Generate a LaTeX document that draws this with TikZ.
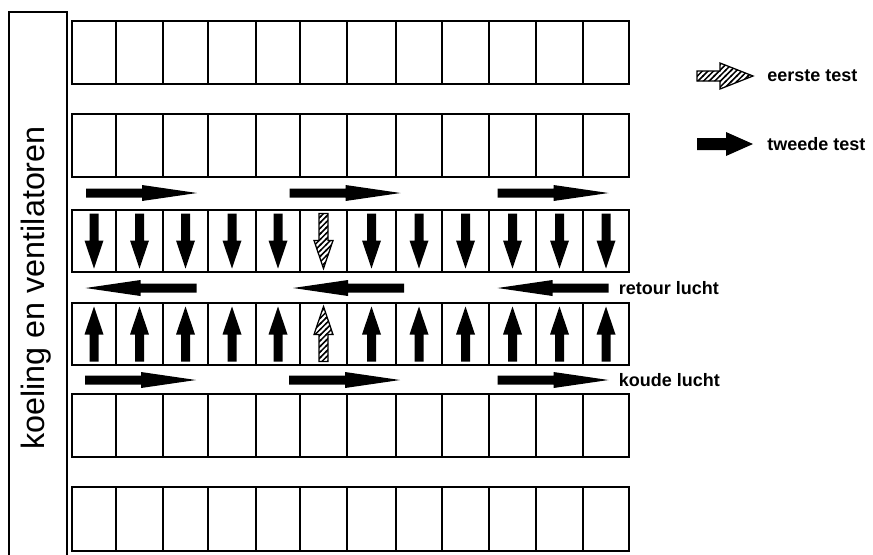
\documentclass[tikz,border=0pt]{standalone}
\usepackage{fontspec}
\setsansfont{Liberation Sans}
\usetikzlibrary{positioning,fit,patterns}
\pgfdeclarepatternformonly{arcering}{\pgfqpoint{-1pt}{-1pt}}{\pgfqpoint{5pt}{5pt}}{\pgfqpoint{4pt}{4pt}}{
  \pgfsetlinewidth{1.1pt}
  \pgfpathmoveto{\pgfqpoint{-0.5pt}{-0.5pt}}
  \pgfpathlineto{\pgfqpoint{4.5pt}{4.5pt}}
  \pgfusepath{stroke}}
\tikzset{
cel/.style={rectangle,draw,line width=1.2pt,inner sep=0pt},
kader/.style={rectangle,draw,line width=1.1pt,inner sep=0pt},
% pijl: lengte, halve schacht, halve kop, koplengte
pics/pijlvorm/.style n args={4}{code={
  \path[pic actions] ({-#1/2},-#2) -- ({#1/2-#4},-#2) -- ({#1/2-#4},-#3) -- ({#1/2},0)
    -- ({#1/2-#4},#3) -- ({#1/2-#4},#2) -- ({-#1/2},#2) -- cycle;
  \coordinate (-tip) at ({#1/2},0);
  \coordinate (-staart) at ({-#1/2},0);
}},
pics/stroompijl/.style={/tikz/pics/pijlvorm={111}{4.5}{8}{55}},
pics/blaaspijl/.style={/tikz/pics/pijlvorm={55}{4.5}{9.5}{28}},
zwart/.style={fill=black},
gearceerd/.style={draw=black,line width=0.9pt,pattern=arcering},
el/.style={font=\sffamily\bfseries\fontsize{12.8}{15}\selectfont,inner sep=0pt},
}

\begin{document}
\begin{tikzpicture}[x=0.025cm,y=-0.025cm]
	\useasboundingbox (0,0) rectangle (873,554);

	% koelwand
	\node[kader,fit={(9,12) (67,590)}] (wand) {};
	\node[rotate=90,font=\sffamily\fontsize{23}{26}\selectfont] at (36,288) (wandtekst) {koeling en ventilatoren};

	% vakken
	\foreach \j/\xl/\xr in {1/72/116,2/116/163,3/163/208,4/208/256,5/256/300,6/300/347,
	                        7/347/396,8/396/442,9/442/489,10/489/536,11/536/583,12/583/629}
	  \foreach \r/\yt/\yb in {1/21/84,2/114/177,3/210/272,4/303/365,5/394/457,6/487/551}
	    \node[cel,fit={(\xl,\yt) (\xr,\yb)}] (c\r-\j) {};

	% lucht door de vakken
	\foreach \j in {1,...,5,7,8,...,12} {
	  \pic[zwart,rotate=-90] (neer\j) at (c3-\j) {blaaspijl};
	  \pic[zwart,rotate=90] (op\j) at (c4-\j) {blaaspijl};
	}
	\pic[gearceerd,rotate=-90] (neer6) at (c3-6) {blaaspijl};
	\pic[gearceerd,rotate=90] (op6) at (c4-6) {blaaspijl};

	% lucht in de gangen
	\pic[zwart] (aanvoer1) at (141.5,193) {stroompijl};
	\pic[zwart] (aanvoer2) at (345,193) {stroompijl};
	\pic[zwart] (aanvoer3) at (553,193) {stroompijl};
	\pic[zwart,rotate=180] (retour1) at (141,288) {stroompijl};
	\pic[zwart,rotate=180] (retour2) at (348.5,288) {stroompijl};
	\pic[zwart,rotate=180] (retour3) at (553,288) {stroompijl};
	\pic[zwart] (koud1) at (140.5,380) {stroompijl};
	\pic[zwart] (koud2) at (344.5,380) {stroompijl};
	\pic[zwart] (koud3) at (553,380) {stroompijl};

	\node[el,right=0.25cm of retour3-staart] (retourtekst) {retour lucht};
	\node[el,right=0.25cm of koud3-tip] (koudtekst) {koude lucht};

	% legenda
	\pic[gearceerd] (eerste) at (725,76) {pijlvorm={56}{5}{13}{33}};
	\pic[zwart] (tweede) at (725,144) {pijlvorm={56}{6}{12}{27}};
	\node[el,right=0.35cm of eerste-tip] (eerstetekst) {eerste test};
	\node[el,right=0.35cm of tweede-tip] (tweedetekst) {tweede test};
\end{tikzpicture}
\end{document}
